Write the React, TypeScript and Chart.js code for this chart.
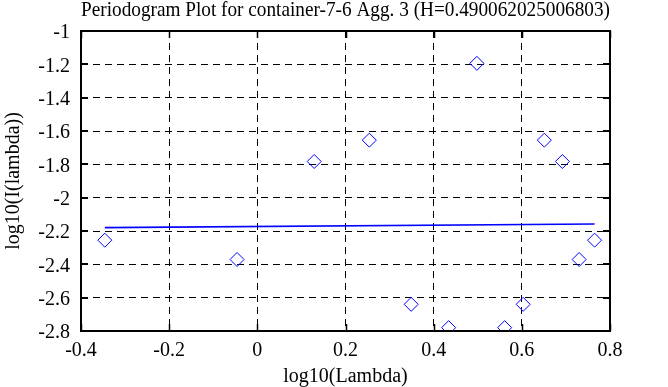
import React, { useEffect, useRef } from "react";
import { Chart, registerables } from "chart.js";

Chart.register(...registerables);

const titleText = "Periodogram Plot for container-7-6 Agg. 3 (H=0.490062025006803)";
const xTitle = "log10(Lambda)";
const yTitle = "log10(I(lambda))";

const logLambda = [-0.346, -0.046, 0.129, 0.254, 0.349, 0.434, 0.498, 0.561, 0.603, 0.651, 0.692, 0.73, 0.765];
const logI = [-2.255, -2.371, -1.783, -1.655, -2.64, -2.78, -1.194, -2.78, -2.64, -1.655, -1.783, -2.371, -2.255];

const fitX = [-0.346, 0.765];
const fitY = [-2.18, -2.158];

const xTicks = [-0.4, -0.2, 0, 0.2, 0.4, 0.6, 0.8];
const xTickLabels = ["-0.4", "-0.2", "0", "0.2", "0.4", "0.6", "0.8"];
const yTicks = [-2.8, -2.6, -2.4, -2.2, -2, -1.8, -1.6, -1.4, -1.2, -1];
const yTickLabels = ["-2.8", "-2.6", "-2.4", "-2.2", "-2", "-1.8", "-1.6", "-1.4", "-1.2", "-1"];

const FONT = "'Liberation Serif', 'Times New Roman', serif";

function labelFor(values: number[], labels: string[], v: number) {
  let best = 0;
  for (let i = 0; i < values.length; i++) {
    if (Math.abs(values[i] - v) < Math.abs(values[best] - v)) best = i;
  }
  return labels[best];
}

const framePlugin = {
  id: "frame",
  afterDraw(chart: any) {
    const { ctx, chartArea } = chart;
    const { left, right, top, bottom } = chartArea;
    const xs = chart.scales.x;
    const ys = chart.scales.y;
    ctx.save();
    ctx.strokeStyle = "#000";
    ctx.lineWidth = 2;
    ctx.strokeRect(left, top, right - left, bottom - top);
    const len = 7;
    ctx.lineWidth = 1.5;
    ctx.beginPath();
    for (const v of xTicks) {
      const px = Math.round(xs.getPixelForValue(v)) + 0.5;
      ctx.moveTo(px, bottom);
      ctx.lineTo(px, bottom - len);
      ctx.moveTo(px, top);
      ctx.lineTo(px, top + len);
    }
    ctx.stroke();
    ctx.lineWidth = 2;
    ctx.beginPath();
    for (const v of yTicks) {
      const py = Math.round(ys.getPixelForValue(v));
      ctx.moveTo(left, py);
      ctx.lineTo(left + len, py);
      ctx.moveTo(right, py);
      ctx.lineTo(right - len, py);
    }
    ctx.stroke();
    ctx.restore();
  },
};

export default function App() {
  const ref = useRef<HTMLCanvasElement | null>(null);

  useEffect(() => {
    if (!ref.current) return;
    document.body.style.margin = "0";
    Chart.defaults.font.family = FONT;
    const chart = new Chart(ref.current, {
      type: "scatter",
      data: {
        datasets: [
          {
            type: "line",
            data: fitX.map((x, i) => ({ x, y: fitY[i] })),
            borderColor: "#0000ff",
            borderWidth: 1.6,
            pointRadius: 0,
            fill: false,
          } as any,
          {
            type: "scatter",
            data: logLambda.map((x, i) => ({ x, y: logI[i] })),
            pointStyle: "rectRot",
            pointRadius: 7,
            pointBorderColor: "#0000ff",
            pointBackgroundColor: "rgba(0,0,0,0)",
            pointBorderWidth: 1,
            borderColor: "#0000ff",
            backgroundColor: "rgba(0,0,0,0)",
          } as any,
        ],
      },
      options: {
        responsive: false,
        animation: false,
        devicePixelRatio: 1,
        layout: { padding: { left: 0, right: 58, top: 0, bottom: 0 } },
        plugins: {
          legend: { display: false },
          tooltip: { enabled: false },
          title: {
            display: true,
            text: titleText,
            color: "#000",
            fullSize: false,
            font: { family: FONT, size: 20.4, weight: "normal", lineHeight: 1 },
            padding: { top: 0, bottom: 10.6 },
          },
        },
        scales: {
          x: {
            type: "linear",
            min: -0.4,
            max: 0.8,
            afterBuildTicks: (s: any) => {
              s.ticks = xTicks.map((value) => ({ value }));
            },
            afterFit: (s: any) => {
              s.height = 56;
            },
            ticks: {
              color: "#000",
              font: { family: FONT, size: 20 },
              padding: 8,
              maxRotation: 0,
              autoSkip: false,
              callback: (v: any) => labelFor(xTicks, xTickLabels, Number(v)),
            },
            grid: { color: "#000", lineWidth: 1, drawTicks: false },
            border: { display: false, dash: [7, 5] },
            title: {
              display: true,
              text: xTitle,
              color: "#000",
              font: { family: FONT, size: 20, lineHeight: 1 },
              padding: 0,
            },
          },
          y: {
            type: "linear",
            min: -2.8,
            max: -1,
            afterBuildTicks: (s: any) => {
              s.ticks = yTicks.map((value) => ({ value }));
            },
            afterFit: (s: any) => {
              s.width = 81;
            },
            ticks: {
              color: "#000",
              font: { family: FONT, size: 20 },
              padding: 11,
              labelOffset: 2,
              autoSkip: false,
              callback: (v: any) => labelFor(yTicks, yTickLabels, Number(v)),
            },
            grid: { color: "#000", lineWidth: 1, drawTicks: false },
            border: { display: false, dash: [7, 5] },
            title: {
              display: true,
              text: yTitle,
              color: "#000",
              font: { family: FONT, size: 20, lineHeight: 1 },
              padding: { top: 4, bottom: 0 },
            },
          },
        },
      },
      plugins: [framePlugin],
    });
    return () => chart.destroy();
  }, []);

  return (
    <div style={{ position: "absolute", left: 0, top: 0, width: 668, height: 387 }}>
      <canvas ref={ref} width={668} height={387} style={{ width: 668, height: 387 }} />
    </div>
  );
}
